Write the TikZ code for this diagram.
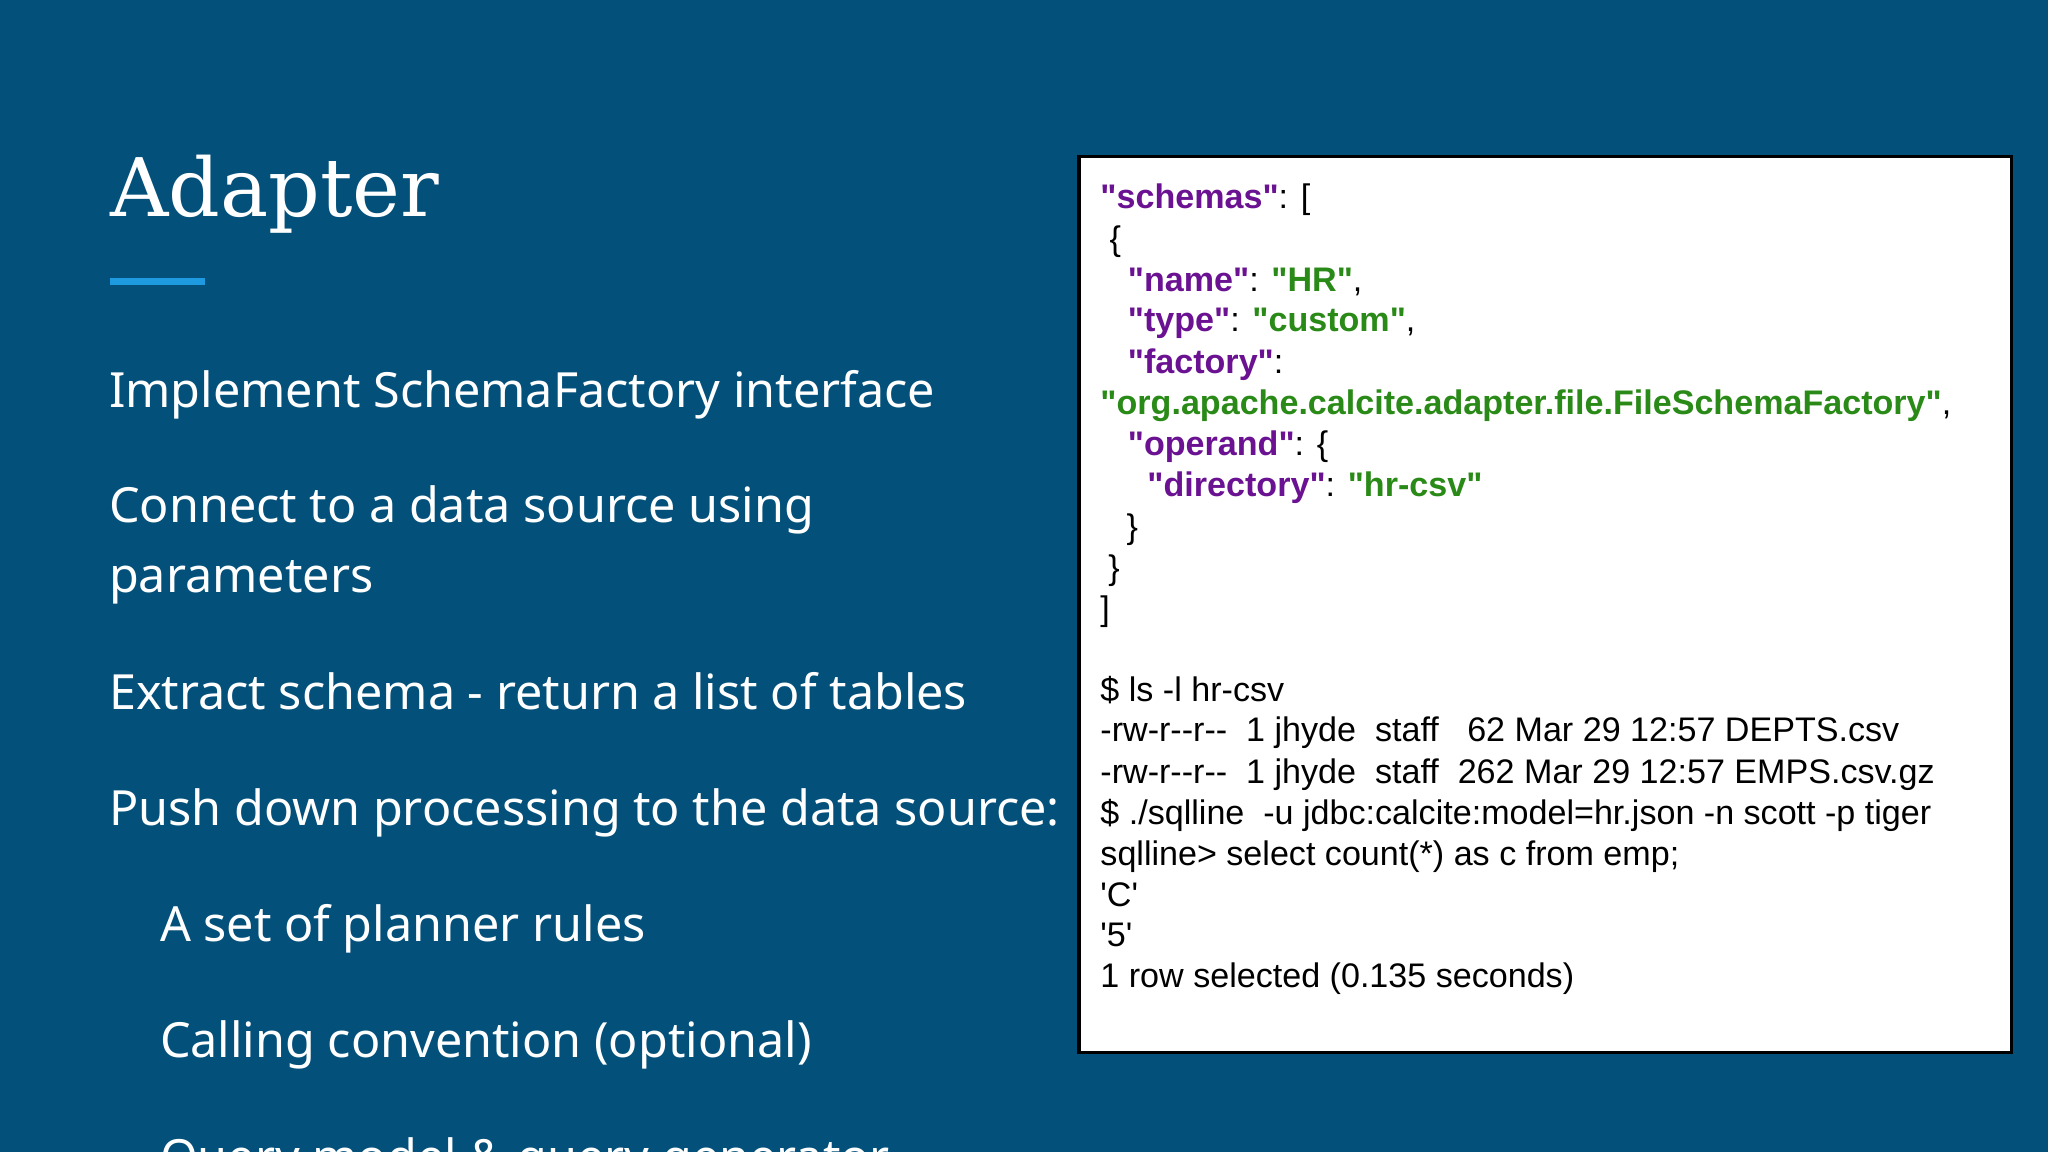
\documentclass[tikz,border=0pt]{standalone}
\usepackage{fontspec}
\setmainfont{Noto Sans}
\newfontfamily\titlefont{DejaVu Serif}
\newfontfamily\codefont{Liberation Sans}
\definecolor{bg}{HTML}{03507A}
\definecolor{bar}{HTML}{1E9BE0}
\definecolor{kp}{HTML}{6A1291}
\definecolor{kg}{HTML}{2A8A18}
\begin{document}
\begin{tikzpicture}[x=0.013061cm,y=-0.013061cm,
  body/.style={anchor=base west,text=white,inner sep=0pt,font=\fontsize{13.8}{16}\selectfont},
  code/.style={anchor=base west,inner sep=0pt,font=\codefont\fontsize{9.7}{12}\selectfont}]
\clip (0,0) rectangle (1568,882);
\fill[bg] (0,0) rectangle (1568,882);
\node[anchor=base west,text=white,inner sep=0pt,font=\titlefont\fontsize{23}{28}\selectfont] (t) at (84,166) {Adapter};
\fill[bar] (84,213) rectangle (157,218);
\node[body] (b1) at (83,312) {Implement SchemaFactory interface};
\node[body] (b2) at (83,400) {Connect to a data source using};
\node[body] (b3) at (83,454) {parameters};
\node[body] (b4) at (83,543) {Extract schema - return a list of tables};
\node[body] (b5) at (83,632) {Push down processing to the data source:};
\node[body] (b6) at (122,721) {A set of planner rules};
\node[body] (b7) at (122,810) {Calling convention (optional)};
\node[body] (b8) at (122,899) {Query model \& query generator};
\draw[fill=white,draw=black,line width=1pt] (826,120) rectangle (1540,806);
\def\P#1{\textcolor{kp}{\bfseries "#1"}}
\def\G#1{\textcolor{kg}{\bfseries "#1"}}
\node[code] (c1) at (842,160) {\P{schemas}: [};
\node[code] (c2) at (849,192) {\{};
\node[code] (c3) at (863,223) {\P{name}: \G{HR},};
\node[code] (c4) at (863,254) {\P{type}: \G{custom},};
\node[code] (c5) at (863,286) {\P{factory}:};
\node[code] (c6) at (842,317) {\G{org.apache.calcite.adapter.file.FileSchemaFactory},};
\node[code] (c7) at (863,349) {\P{operand}: \{};
\node[code] (c8) at (878,380) {\P{directory}: \G{hr-csv}};
\node[code] (c9) at (862,412) {\}};
\node[code] (c10) at (848,444) {\}};
\node[code] (c11) at (842,475) {]};
\node[code] (d1) at (842,537) {\$ ls -l hr-csv};
\node[code] (d2) at (842,568) {-rw-r--r--\ \ 1 jhyde\ \ staff\ \ \ 62 Mar 29 12:57 DEPTS.csv};
\node[code] (d3) at (842,600) {-rw-r--r--\ \ 1 jhyde\ \ staff\ \ 262 Mar 29 12:57 EMPS.csv.gz};
\node[code] (d4) at (842,631) {\$ ./sqlline\ \ -u jdbc:calcite:model=hr.json -n scott -p tiger};
\node[code] (d5) at (842,663) {sqlline> select count(*) as c from emp;};
\node[code] (d6) at (842,694) {'C'};
\node[code] (d7) at (842,725) {'5'};
\node[code] (d8) at (842,756) {1 row selected (0.135 seconds)};
\end{tikzpicture}
\end{document}
